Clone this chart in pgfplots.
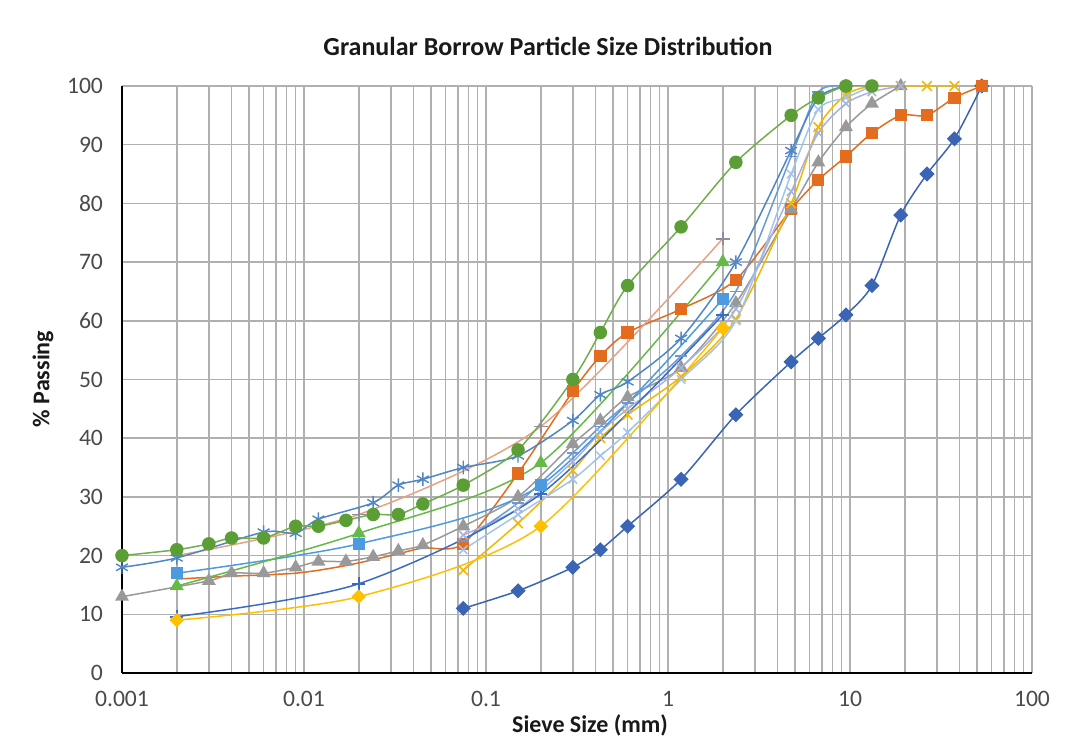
\documentclass[border=0pt]{standalone}
\usepackage{fontspec}
\setmainfont{Carlito}
\usepackage{pgfplots}
\pgfplotsset{compat=1.18}
\definecolor{gridgray}{HTML}{B0B0B0}
\definecolor{tickgray}{HTML}{4A4A4A}
\definecolor{cBlueD}{HTML}{3A64B4}
\definecolor{cOrange}{HTML}{E36C1E}
\definecolor{cGrayT}{HTML}{999999}
\definecolor{cGold}{HTML}{F2B700}
\definecolor{cStar}{HTML}{4F86C6}
\definecolor{cGreen}{HTML}{5B9E35}
\definecolor{cGreenL}{HTML}{6FAE4A}
\definecolor{cBluePlus}{HTML}{3B6BC2}
\definecolor{cGrayPlus}{HTML}{8E8E9E}
\definecolor{cSalmon}{HTML}{E6A283}
\definecolor{cGreenTri}{HTML}{66B847}
\definecolor{cBlueSq}{HTML}{4C9BE0}
\definecolor{cGoldD}{HTML}{FFC000}
\definecolor{cLightX}{HTML}{A3C4EA}
\definecolor{cMidBlue}{HTML}{6A9AD8}
\definecolor{cLav}{HTML}{A6B3E0}
\begin{document}
\begin{tikzpicture}[x=1pt,y=1pt]
\begin{axis}[
  at={(61pt,34.5pt)}, anchor=south west,
  scale only axis, width=455pt, height=293.5pt,
  xmode=log, log basis x=10,
  xmin=0.001, xmax=100, ymin=0, ymax=100,
  xtick={0.001,0.01,0.1,1,10,100},
  xticklabels={0.001,0.01,0.1,1,10,100},
  minor xtick={0.002,0.003,0.004,0.005,0.006,0.007,0.008,0.009,
    0.02,0.03,0.04,0.05,0.06,0.07,0.08,0.09,
    0.2,0.3,0.4,0.5,0.6,0.7,0.8,0.9,
    2,3,4,5,6,7,8,9,20,30,40,50,60,70,80,90},
  ytick={0,10,20,30,40,50,60,70,80,90,100},
  yticklabels={0,10,20,30,40,50,60,70,80,90,100},
  grid=both,
  major grid style={draw=gridgray, line width=0.75pt},
  minor grid style={draw=gridgray, line width=0.75pt},
  axis x line*=bottom, axis y line*=left,
  axis line style={black, line width=1.4pt, -},
  major tick length=0pt, minor tick length=0pt,
  ticklabel style={font=\fontsize{11.8}{13}\selectfont, text=tickgray},
  xticklabel style={yshift=-8pt, inner sep=1pt},
  yticklabel style={xshift=-6pt},
  every axis plot/.append style={line width=0.75pt, smooth, tension=0.45},
]
% 1 blue diamonds
\addplot[color=cBlueD, mark=square*, mark size=2.3pt, mark options={rotate=45, fill=cBlueD, draw=cBlueD}] coordinates {
(0.075,11)(0.15,14)(0.3,18)(0.425,21)(0.6,25)(1.18,33)(2.36,44)(4.75,53)(6.7,57)(9.5,61)(13.2,66)(19,78)(26.5,85)(37.5,91)(53,100)};
% 2 orange squares
\addplot[color=cOrange, mark=square*, mark size=2.7pt, mark indices={11,...,25}, mark options={fill=cOrange, draw=cOrange}] coordinates {
(0.002,16)(0.003,16.3)(0.004,16.5)(0.006,16.7)(0.009,17)(0.012,17.5)(0.017,18.3)(0.024,19.3)(0.033,20.3)(0.045,21.3)
(0.075,22)(0.15,34)(0.3,48)(0.425,54)(0.6,58)(1.18,62)(2.36,67)(4.75,79)(6.7,84)(9.5,88)(13.2,92)(19,95)(26.5,95)(37.5,98)(53,100)};
% 3 gray triangles
\addplot[color=cGrayT, mark=triangle*, mark size=3.3pt, mark options={fill=cGrayT, draw=cGrayT}] coordinates {
(0.001,13)(0.003,15.7)(0.004,17)(0.006,17)(0.009,18)(0.012,19)(0.017,19)(0.024,19.8)(0.033,20.8)(0.045,21.8)
(0.075,25)(0.15,30)(0.3,39)(0.425,43)(0.6,47)(1.18,52)(2.36,63)(4.75,79)(6.7,87)(9.5,93)(13.2,97)(19,100)};
% 4 gold x
\addplot[color=cGold, mark=x, mark size=3.4pt, mark options={draw=cGold, line width=0.8pt}] coordinates {
(0.075,17.5)(0.15,25.5)(0.3,34.5)(0.425,40)(0.6,44)(1.18,50.5)(2.36,60.3)(4.75,80)(6.7,93)(9.5,98.5)(13.2,100)(19,100)(26.5,100)(37.5,100)};
% 12 light blue x
\addplot[color=cLightX, mark=x, mark size=3pt, mark options={draw=cLightX}] coordinates {
(0.075,21)(0.15,27)(0.3,33)(0.425,37)(0.6,41)(1.18,50)(2.36,60)(4.75,85)(6.7,96)(9.5,98)(13.2,100)};
% 14 lavender
\addplot[color=cLav, mark=x, mark size=3pt, mark options={draw=cLav}] coordinates {
(0.075,23.5)(0.15,28)(0.3,36)(0.425,41)(0.6,45)(1.18,52)(2.36,62)(4.75,82)(6.7,92)(9.5,97)(13.2,99)(19,100)};
% 13 mid blue
\addplot[color=cMidBlue, mark=-, mark size=3pt, mark options={draw=cMidBlue}] coordinates {
(0.075,22.5)(0.15,29)(0.3,37.5)(0.425,42)(0.6,46)(1.18,54)(2.36,65)(4.75,88)(6.7,99)(9.5,100)};
% 7 blue plus
\addplot[color=cBluePlus, mark=+, mark size=3.2pt, mark options={draw=cBluePlus, line width=0.9pt}] coordinates {
(0.002,9.6)(0.02,15.2)(0.2,30.5)(2,61)};
% 11 gold diamonds
\addplot[color=cGoldD, mark=square*, mark size=2.2pt, mark options={rotate=45, fill=cGoldD, draw=cGoldD}] coordinates {
(0.002,9)(0.02,13)(0.2,25)(2,58.8)};
% 10 blue squares
\addplot[color=cBlueSq, mark=square*, mark size=2.7pt, mark options={fill=cBlueSq, draw=cBlueSq}] coordinates {
(0.002,17)(0.02,22)(0.2,32)(2,63.7)};
% 9 green triangles
\addplot[color=cGreenTri, mark=triangle*, mark size=3.3pt, mark options={fill=cGreenTri, draw=cGreenTri}] coordinates {
(0.002,14.8)(0.02,23.8)(0.2,35.8)(2,70)};
% 8 gray plus
\addplot[color=cSalmon, mark=+, mark size=3.4pt, mark options={draw=cGrayPlus, line width=0.9pt}] coordinates {
(0.002,20)(0.02,27)(0.2,42)(2,74)};
% 5 blue asterisks
\addplot[color=cStar, mark=asterisk, mark size=3.4pt, mark options={draw=cStar, line width=0.7pt}] coordinates {
(0.001,18)(0.002,19.6)(0.006,24)(0.009,23.8)(0.012,26.2)(0.024,29)(0.033,32)(0.045,33)(0.075,35)(0.15,37)(0.3,43)(0.425,47.4)(0.6,49.6)(1.18,57)(2.36,70)(4.75,89)(6.7,98)(9.5,100)};
% 6 green circles
\addplot[color=cGreenL, mark=*, mark size=3pt, mark options={fill=cGreen, draw=cGreen}] coordinates {
(0.001,20)(0.002,21)(0.003,22)(0.004,23)(0.006,23)(0.009,25)(0.012,25)(0.017,26)(0.024,27)(0.033,27)(0.045,28.8)(0.075,32)(0.15,38)(0.3,50)(0.425,58)(0.6,66)(1.18,76)(2.36,87)(4.75,95)(6.7,98)(9.5,100)(13.2,100)};
\end{axis}
\node[font=\bfseries\fontsize{13}{15}\selectfont, text=black!90] at (274pt,348pt) {Granular Borrow Particle Size Distribution};
\node[font=\bfseries\fontsize{12}{14}\selectfont, text=black!90, inner sep=0pt] at (295pt,8.5pt) {Sieve Size (mm)};
\node[font=\bfseries\fontsize{12}{14}\selectfont, text=black!90, rotate=90] at (21.5pt,181.5pt) {\% Passing};
\pgfresetboundingbox
\path[use as bounding box] (0,0) rectangle (538pt,371pt);
\end{tikzpicture}
\end{document}
